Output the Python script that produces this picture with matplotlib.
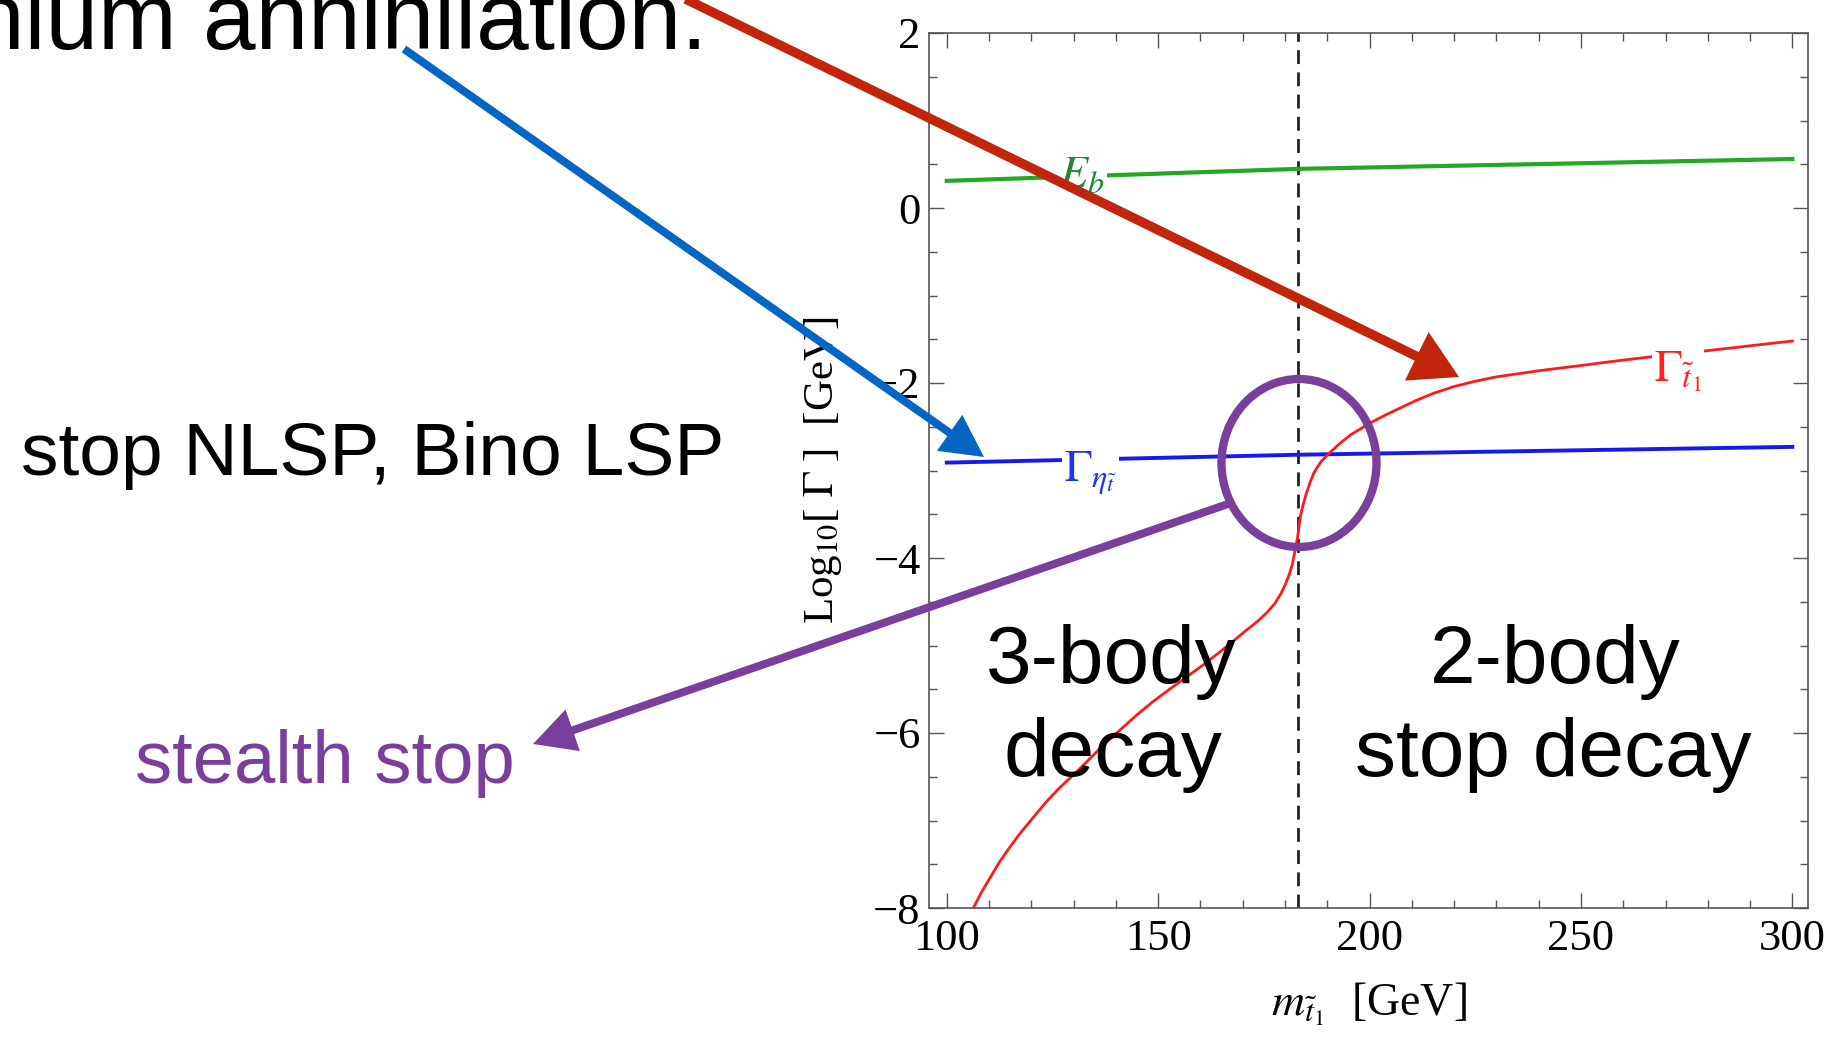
import numpy as np
import matplotlib
matplotlib.use("Agg")
import matplotlib.pyplot as plt
from matplotlib.transforms import Affine2D
from matplotlib.lines import Line2D
from matplotlib.patches import Polygon, Ellipse
from matplotlib.ticker import MultipleLocator

W, H = 1837, 1039

plt.rcParams['mathtext.fontset'] = 'stix'
plt.rcParams['font.family'] = ['Liberation Serif', 'DejaVu Serif']

# ---------------- data ----------------
mass_eb = [100, 183, 300]
log_eb = [0.31, 0.447, 0.56]

mass_eta = [100, 183, 300]
log_gamma_eta = [-2.91, -2.82, -2.73]

mass_stop = [106.3, 108.2, 110.3, 112.4, 114.7, 117.3, 120.2, 123.3, 126.6,
             129.7, 132.9, 136.8, 140.9, 144.8, 148.8, 152.7, 156.7, 160.7,
             164.7, 168.0, 171.0, 173.6, 175.8, 177.6, 179.0, 180.1, 181.0,
             181.7, 182.2, 182.6, 183.0, 183.3, 183.7, 184.3, 185.0, 185.9,
             186.9, 188.5, 190.5, 193.0, 195.6, 198.0, 200.4, 204.0, 207.5,
             211.0, 215.0, 220.0, 225.0, 230.0, 240.0, 250.0, 258.0, 265.0,
             272.0, 280.0, 290.0, 300.0]
log_gamma_stop = [-8.0, -7.82, -7.65, -7.48, -7.32, -7.15, -6.98, -6.80, -6.63,
                  -6.49, -6.34, -6.15, -5.97, -5.80, -5.64, -5.50, -5.36, -5.22,
                  -5.07, -4.94, -4.82, -4.72, -4.62, -4.52, -4.41, -4.30, -4.19,
                  -4.08, -3.96, -3.86, -3.76, -3.64, -3.51, -3.39, -3.27, -3.14,
                  -3.02, -2.90, -2.80, -2.69, -2.59, -2.52, -2.45, -2.36, -2.28,
                  -2.20, -2.12, -2.04, -1.98, -1.93, -1.86, -1.80, -1.75, -1.71,
                  -1.67, -1.63, -1.575, -1.52]

threshold_mass = 183.0

x_ticks = [100, 150, 200, 250, 300]
y_ticks = [-8, -6, -4, -2, 0, 2]

# ---------------- figure ----------------
fig = plt.figure(figsize=(W / 100, H / 100), dpi=100)
ax = fig.add_axes([929 / W, 1 - 908 / H, (1808 - 929) / W, (908 - 33) / H])

ax.plot(mass_eb, log_eb, color='#22A822', lw=3.0, zorder=2)
ax.plot(mass_eta, log_gamma_eta, color='#1818EE', lw=2.8, zorder=2)
ax.plot(mass_stop, log_gamma_stop, color='#FF1A1A', lw=2.0, zorder=2,
        solid_joinstyle='round')
ax.axvline(threshold_mass, color='#222222', lw=2.0, dashes=(5, 3), zorder=1)

lab_bbox = dict(facecolor='white', edgecolor='none', pad=1.5)
ax.text(132, 0.37, r'$E_b$', color='#1E8A2E', fontsize=33,
        ha='center', va='center', bbox=lab_bbox, zorder=3)
ax.text(134, -3.03, r'$\Gamma_{\eta_{\tilde{t}}}$', color='#2233EE', fontsize=33,
        ha='center', va='center', bbox=lab_bbox, zorder=3)
ax.text(273, -1.87, r'$\Gamma_{\tilde{t}_1}$', color='#FF2020', fontsize=33,
        ha='center', va='center', bbox=lab_bbox, zorder=3)

ax.set_xlim(95.8, 303.7)
ax.set_ylim(-8, 2)
ax.set_xticks(x_ticks)
ax.set_yticks(y_ticks)
ax.xaxis.set_minor_locator(MultipleLocator(10))
ax.yaxis.set_minor_locator(MultipleLocator(0.5))
ax.tick_params(which='both', direction='in', top=True, right=True,
               color='#555555', width=1.0)
ax.tick_params(which='major', length=11, labelsize=32)
ax.tick_params(which='minor', length=5.5)
ax.tick_params(axis='x', which='major', pad=8)
ax.tick_params(axis='y', which='major', pad=6)
for s in ax.spines.values():
    s.set_color('#555555')
    s.set_linewidth(1.2)

ax.set_xlabel(r'$m_{\tilde{t}_1}$  [GeV]', fontsize=33)
ax.set_ylabel(r'Log$_{10}$[ $\Gamma$ ]  [GeV]', fontsize=31)
ax.xaxis.set_label_coords(0.5, -0.083)
ax.yaxis.set_label_coords(-0.097, 0.5)

# ---------------- slide overlay (pixel coords from top-left) ----------------
px = Affine2D().scale(1 / W, -1 / H).translate(0, 1) + fig.transFigure
sans = ['Liberation Sans', 'DejaVu Sans']
purple = '#7A3F9B'

fig.text(707, 49, 'nium annihilation.', transform=px, fontsize=68,
         family=sans, ha='right', va='baseline', color='black')
fig.text(21, 475, 'stop NLSP, Bino LSP', transform=px, fontsize=54,
         family=sans, ha='left', va='baseline', color='black')
fig.text(135, 783, 'stealth stop', transform=px, fontsize=53.5,
         family=sans, ha='left', va='baseline', color=purple)
fig.text(1111, 683, '3-body', transform=px, fontsize=59,
         family=sans, ha='center', va='baseline', color='black')
fig.text(1113, 776, 'decay', transform=px, fontsize=59,
         family=sans, ha='center', va='baseline', color='black')
fig.text(1555, 683, '2-body', transform=px, fontsize=59,
         family=sans, ha='center', va='baseline', color='black')
fig.text(1553, 776, 'stop decay', transform=px, fontsize=59,
         family=sans, ha='center', va='baseline', color='black')


def arrow(p0, p1, color, lw_px, head_len, head_w):
    p0 = np.array(p0, float)
    p1 = np.array(p1, float)
    d = p1 - p0
    u = d / np.hypot(*d)
    n = np.array([-u[1], u[0]])
    base = p1 - u * head_len
    end = base + u * 3
    fig.add_artist(Line2D([p0[0], end[0]], [p0[1], end[1]], transform=px,
                          color=color, lw=lw_px * 0.72, solid_capstyle='butt'))
    fig.add_artist(Polygon([p1, base + n * head_w / 2, base - n * head_w / 2],
                           closed=True, transform=px, facecolor=color,
                           edgecolor='none'))


arrow((663, -12), (1459, 377), '#C1260C', 9.5, 47, 54)
arrow((404, 49), (984, 457), '#0565C2', 8.0, 42, 44)
arrow((1228, 504), (533, 744), purple, 8.0, 42, 44)
fig.add_artist(Ellipse((1299, 463), 155, 168, transform=px, fill=False,
                       edgecolor=purple, lw=6.0))

fig.savefig('out.png', dpi=100)
